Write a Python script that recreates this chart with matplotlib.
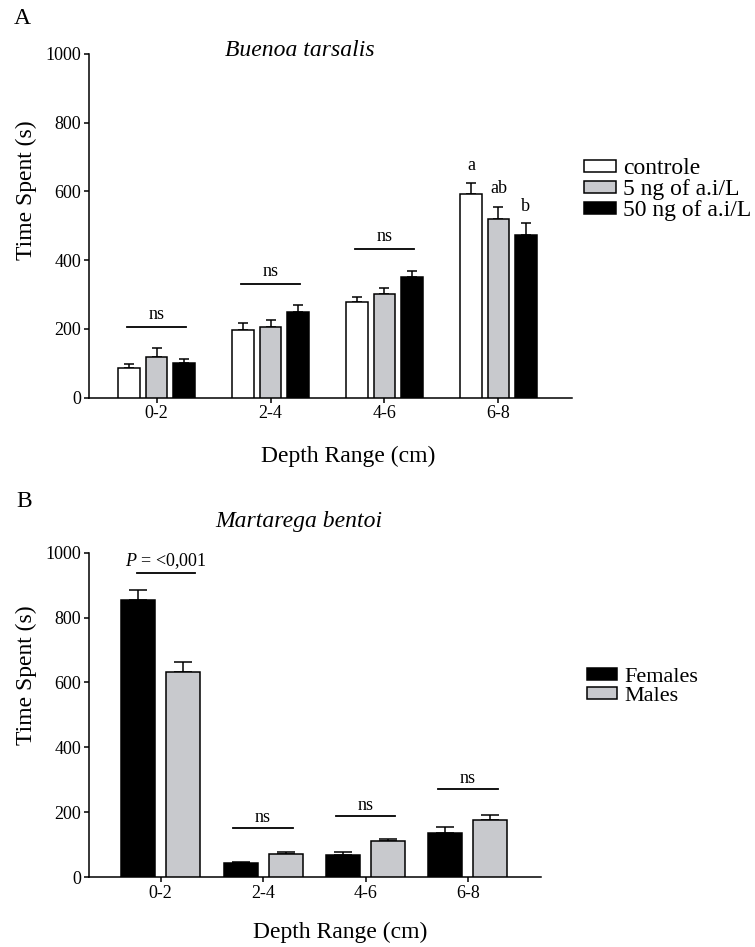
import numpy as np
import matplotlib
matplotlib.use('Agg')
import matplotlib.pyplot as plt
from matplotlib.patches import Patch

plt.rcParams['font.family'] = 'Liberation Serif'
plt.rcParams['mathtext.fontset'] = 'custom'
plt.rcParams['mathtext.rm'] = 'Liberation Serif'
plt.rcParams['mathtext.it'] = 'Liberation Serif:italic'
plt.rcParams['axes.linewidth'] = 1.1

# data
depth = ['0-2', '2-4', '4-6', '6-8']

# panel A: Buenoa tarsalis
controle = [86, 197, 278, 592]
controle_err = [12, 20, 16, 34]
ng5 = [118, 207, 301, 521]
ng5_err = [27, 19, 19, 35]
ng50 = [101, 250, 351, 472]
ng50_err = [11, 20, 19, 35]
sig_a = [207, 332, 433]            # ns bars over first three groups
letters_68 = ['a', 'ab', 'b']
letters_68_y = [677, 608, 555]

# panel B: Martarega bentoi
females = [855, 42, 69, 136]
females_err = [31, 4, 7, 18]
males = [633, 71, 110, 176]
males_err = [31, 5, 8, 15]
sig_b = [938, 152, 189, 271]
sig_b_text = ['$P$ = <0,001', 'ns', 'ns', 'ns']

GRAY = '#c8c9cd'
FS_TICK = 13
FS_LABEL = 17


def style_axis(ax, xmin, xmax):
    ax.set_xlim(xmin, xmax)
    ax.set_ylim(0, 1000)
    ax.set_yticks(range(0, 1001, 200))
    ax.set_xticks(np.arange(len(depth)))
    ax.set_xticklabels(depth)
    ax.spines['top'].set_visible(False)
    ax.spines['right'].set_visible(False)
    ax.tick_params(direction='out', length=3.5, width=1.1,
                   labelsize=FS_TICK, pad=2)


def draw_bars(ax, x, values, errors, color, width, capsize):
    ax.bar(x, values, width, color=color, edgecolor='black',
           linewidth=1.1, zorder=3)
    ax.errorbar(x, values, yerr=[np.zeros(len(values)), errors],
                fmt='none', ecolor='black', elinewidth=1.1,
                capsize=capsize, capthick=1.1, zorder=2)


def sig_line(ax, x, h, text, half=0.26, gap=35, dx=0.0):
    ax.plot([x - half, x + half], [h, h], color='black', lw=1.3)
    ax.text(x + dx, h + gap, text, ha='center', va='center',
            fontsize=FS_TICK)


fig = plt.figure(figsize=(7.55, 9.47), dpi=100)

# ---- panel A ----
ax_a = fig.add_axes([0.1179, 0.5800, 0.6397, 0.3630])
x = np.arange(len(depth))
off_a, w_a = 0.241, 0.19
draw_bars(ax_a, x - off_a, controle, controle_err, 'white', w_a, 3.6)
draw_bars(ax_a, x, ng5, ng5_err, GRAY, w_a, 3.6)
draw_bars(ax_a, x + off_a, ng50, ng50_err, 'black', w_a, 3.6)
style_axis(ax_a, -0.594, 3.646)
for i, h in enumerate(sig_a):
    sig_line(ax_a, i, h, 'ns', half=0.26, gap=35)
for j, (lab, yy) in enumerate(zip(letters_68, letters_68_y)):
    ax_a.text(3 + (j - 1) * off_a, yy, lab, ha='center', va='center',
              fontsize=FS_TICK)

ax_a.set_ylabel('Time Spent (s)', fontsize=FS_LABEL)
ax_a.yaxis.set_label_coords(-0.108, 0.605)
ax_a.set_xlabel('Depth Range (cm)', fontsize=FS_LABEL)
ax_a.xaxis.set_label_coords(0.536, -0.1715)
ax_a.xaxis.label.set_va('center')

# ---- panel B ----
ax_b = fig.add_axes([0.1179, 0.0739, 0.5987, 0.3425])
off_b, w_b = 0.22, 0.332
draw_bars(ax_b, x - off_b, females, females_err, 'black', w_b, 6.5)
draw_bars(ax_b, x + off_b, males, males_err, GRAY, w_b, 6.5)
style_axis(ax_b, -0.70, 3.714)
for i, (h, t) in enumerate(zip(sig_b, sig_b_text)):
    if i == 0:
        sig_line(ax_b, i + 0.05, h, t, half=0.285, gap=37)
    else:
        sig_line(ax_b, i, h, t, half=0.29, gap=33)

ax_b.set_ylabel('Time Spent (s)', fontsize=FS_LABEL)
ax_b.yaxis.set_label_coords(-0.115, 0.623)
ax_b.set_xlabel('Depth Range (cm)', fontsize=FS_LABEL)
ax_b.xaxis.set_label_coords(0.555, -0.1696)
ax_b.xaxis.label.set_va('center')

# ---- titles, panel letters ----
fig.text(300 / 755, 1 - 50 / 947, 'Buenoa tarsalis', style='italic',
         fontsize=FS_LABEL, ha='center', va='center')
fig.text(299 / 755, 1 - 521 / 947, 'Martarega bentoi', style='italic',
         fontsize=FS_LABEL, ha='center', va='center')
fig.text(22 / 755, 1 - 18 / 947, 'A', fontsize=17, ha='center', va='center')
fig.text(24 / 755, 1 - 501 / 947, 'B', fontsize=17, ha='center', va='center')

# ---- legends ----
leg_kw = dict(loc='center left', frameon=False,
              handlelength=1.36, handleheight=0.42, handletextpad=0.3,
              borderpad=0, borderaxespad=0, labelspacing=0.0)
handles_a = [Patch(facecolor='white', edgecolor='black', lw=1.1, label='controle'),
             Patch(facecolor=GRAY, edgecolor='black', lw=1.1, label='5 ng of a.i/L'),
             Patch(facecolor='black', edgecolor='black', lw=1.1, label='50 ng of a.i/L')]
fig.legend(handles=handles_a, bbox_to_anchor=(0.7735, 0.7994),
           fontsize=FS_LABEL, **leg_kw)
handles_b = [Patch(facecolor='black', edgecolor='black', lw=1.1, label='Females'),
             Patch(facecolor=GRAY, edgecolor='black', lw=1.1, label='Males')]
fig.legend(handles=handles_b, bbox_to_anchor=(0.7775, 0.2746),
           fontsize=16, **leg_kw)

fig.savefig('out.png', dpi=100)
